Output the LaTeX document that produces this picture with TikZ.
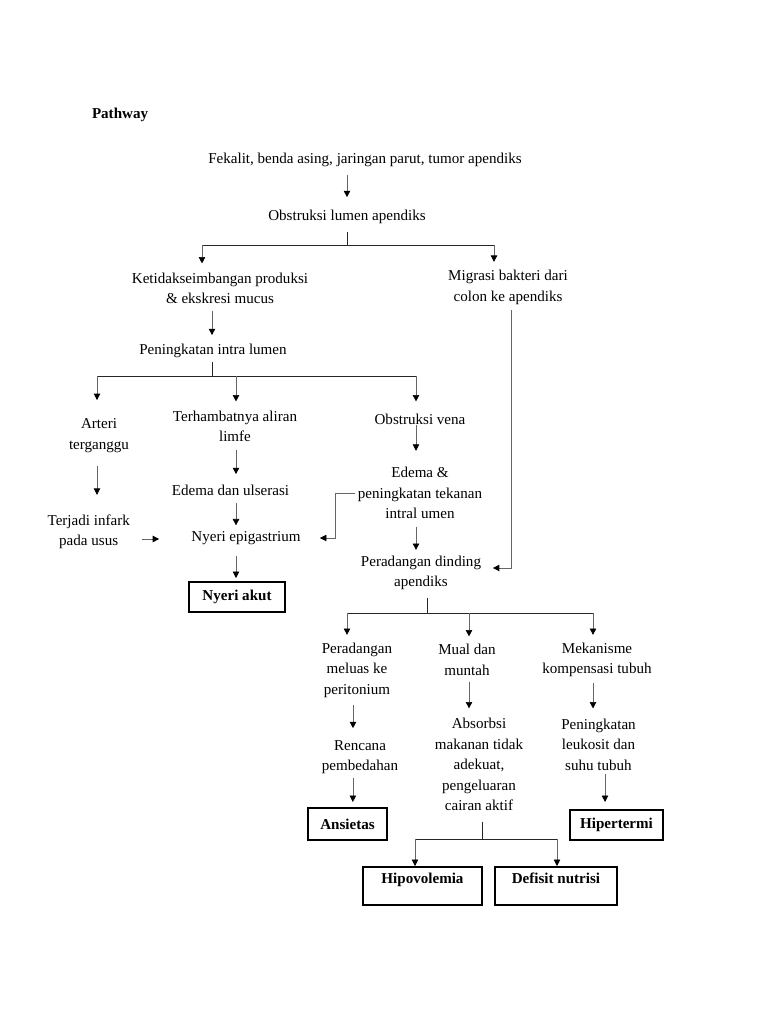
\documentclass[tikz,border=0pt]{standalone}
\usepackage{fontspec}
\setmainfont{Liberation Serif}
\usetikzlibrary{arrows.meta,calc}
\begin{document}
\begin{tikzpicture}[x=0.75pt,y=-0.75pt,
  txt/.style={inner sep=0pt,outer sep=0pt,align=center,yshift=-1.5pt,font=\fontsize{11.3}{15.4}\selectfont},
  boxnode/.style={draw=black,line width=0.9pt,inner sep=0pt,outer sep=0pt,font=\fontsize{11.3}{15.4}\selectfont\bfseries},
  arr/.style={draw=black!60,line width=0.5pt,-{Triangle[width=4.8pt,length=4.8pt,color=black]}},
  bar/.style={draw=black!85,line width=0.6pt}]
\fill[white] (0,0) rectangle (768,1024);
\useasboundingbox (0,0) rectangle (768,1024);

% texts
\node[txt,anchor=west,font=\fontsize{11.3}{15.4}\selectfont\bfseries] (path) at (92,113) {Pathway};
\node[txt] (fek) at (365,158) {Fekalit, benda asing, jaringan parut, tumor apendiks};
\node[txt] (obs) at (347,215) {Obstruksi lumen apendiks};
\node[txt] (ket) at (220,286.5) {Ketidakseimbangan produksi\\\& ekskresi mucus};
\node[txt] (mig) at (508,285.5) {Migrasi bakteri dari\\colon ke apendiks};
\node[txt] (pil) at (213,349) {Peningkatan intra lumen};
\node[txt] (art) at (99,433.5) {Arteri\\terganggu};
\node[txt] (ter) at (235,424.5) {Terhambatnya aliran\\limfe};
\node[txt] (ov) at (420,417) {Obstruksi vena};
\node[txt] (edu) at (230.5,488) {Edema dan ulserasi};
\node[txt] (edp) at (420,491) {Edema \&\\peningkatan tekanan\\intral umen};
\node[txt] (ti) at (88.7,530) {Terjadi infark\\pada usus};
\node[txt] (ne) at (246,536) {Nyeri epigastrium};
\node[boxnode,minimum width=72pt,minimum height=22.5pt] (na) at (237,597) {Nyeri akut};
\node[txt] (pd) at (421,571) {Peradangan dinding\\apendiks};
\node[txt] (pm) at (357,668) {Peradangan\\meluas ke\\peritonium};
\node[txt] (mm) at (467,658) {Mual dan\\muntah};
\node[txt] (mk) at (597,658) {Mekanisme\\kompensasi tubuh};
\node[txt] (rp) at (360,755) {Rencana\\pembedahan};
\node[txt] (ab) at (479,762.5) {Absorbsi\\makanan tidak\\adekuat,\\pengeluaran\\cairan aktif};
\node[txt] (pl) at (598.5,742.7) {Peningkatan\\leukosit dan\\suhu tubuh};
\node[boxnode,minimum width=59.25pt,minimum height=24pt] (an) at (347.5,824) {Ansietas};
\node[boxnode,minimum width=69.75pt,minimum height=22.5pt] (hi) at (616.5,825) {Hipertermi};
\node[boxnode,minimum width=89.25pt,minimum height=28.5pt,text height=7.7pt,text depth=11.6pt] (hv) at (422.5,886) {Hipovolemia};
\node[boxnode,minimum width=91.5pt,minimum height=28.5pt,text height=7.7pt,text depth=11.6pt] (dn) at (556,886) {Defisit nutrisi};

% junctions
\coordinate (j1) at (347,245);
\coordinate (j1l) at (202,245);
\coordinate (j1r) at (494,245);
\coordinate (j2) at (212,376);
\coordinate (j2l) at (97,376);
\coordinate (j2m) at (236,376);
\coordinate (j2r) at (416,376);
\coordinate (j3) at (427,613);
\coordinate (j3l) at (347,613);
\coordinate (j3m) at (469,613);
\coordinate (j3r) at (593,613);
\coordinate (j4) at (482,839);
\coordinate (j4l) at (415,839);
\coordinate (j4r) at (557,839);

% connectors
\draw[arr,shorten <=6pt,shorten >=9.75pt] (obs.north |- fek.south) -- (obs.north);
\draw[bar,shorten <=6pt] (j1 |- obs.south) -- (j1);
\draw[bar] (j1l) -- (j1r);
\draw[arr,shorten >=7.1pt] (j1l) -- (j1l |- ket.north);
\draw[arr,shorten >=6.4pt] (j1r) -- (j1r |- mig.north);

\draw[arr,shorten <=4.9pt,shorten >=6.75pt] (j2 |- ket.south) -- (j2 |- pil.north);
\draw[bar,shorten <=3.1pt] (j2 |- pil.south) -- (j2);
\draw[bar] (j2l) -- (j2r);
\draw[arr,shorten >=13.9pt] (j2l) -- (j2l |- art.north);
\draw[arr,shorten >=7.1pt] (j2m) -- (j2m |- ter.north);
\draw[arr,shorten >=9.2pt] (j2r) -- (j2r |- ov.north);

\draw[arr,shorten <=10.5pt,shorten >=15pt] (j2l |- art.south) -- (j2l |- ti.north);
\draw[arr,shorten <=6pt,shorten >=7.9pt] (j2m |- ter.south) -- (j2m |- edu.north);
\draw[arr,shorten <=0.7pt,shorten >=12.3pt] (j2r |- ov.south) -- (j2r |- edp.north);
\draw[arr,shorten <=6pt,shorten >=4.5pt] (j2m |- edu.south) -- (j2m |- ne.north);
\draw[arr,shorten <=9.4pt,shorten >=24.2pt] ([yshift=-0.75pt]ti.east |- ne.west) -- ([yshift=-0.75pt]ne.west);
\draw[arr,shorten <=2pt,shorten >=14.5pt] (edp.west) -- ++(-22.7,0) |- (ne.east);
\draw[arr,shorten <=8.3pt,shorten >=3pt] (j2m |- ne.south) -- (j2m |- na.north);
\draw[arr,shorten <=5.8pt,shorten >=4.5pt] (j2r |- edp.south) -- (j2r |- pd.north);
\draw[arr,shorten <=4.1pt,shorten >=8.9pt] ([xshift=2.25pt]mig.south) |- ([yshift=3.75pt]pd.east);

\draw[bar,shorten <=6pt] (j3 |- pd.south) -- (j3);
\draw[bar] (j3l) -- (j3r);
\draw[arr,shorten >=5.8pt] (j3l) -- (j3l |- pm.north);
\draw[arr,shorten >=6pt] (j3m) -- (j3m |- mm.north);
\draw[arr,shorten >=6pt] (j3r) -- (j3r |- mk.north);

\draw[arr,shorten <=5.8pt,shorten >=9pt] ([xshift=-3pt]pm.south) -- ([xshift=-3pt]pm.south |- rp.north);
\draw[arr,shorten <=3pt,shorten >=4.5pt] ([xshift=4pt]an.north |- rp.south) -- ([xshift=4pt]an.north);
\draw[arr,shorten <=4.5pt,shorten >=7.3pt] (j3m |- mm.south) -- (j3m |- ab.north);
\draw[arr,shorten <=4.5pt,shorten >=7.8pt] (j3r |- mk.south) -- (j3r |- pl.north);
\draw[arr,shorten <=2.25pt,shorten >=6pt] ([xshift=-8.6pt]hi.north |- pl.south) -- ([xshift=-8.6pt]hi.north);

\draw[bar,shorten <=8pt] (j4 |- ab.south) -- (j4);
\draw[bar] (j4l) -- (j4r);
\draw[arr,shorten >=0.75pt] (j4l) -- (j4l |- hv.north);
\draw[arr,shorten >=0.75pt] (j4r) -- (j4r |- dn.north);
\end{tikzpicture}
\end{document}
